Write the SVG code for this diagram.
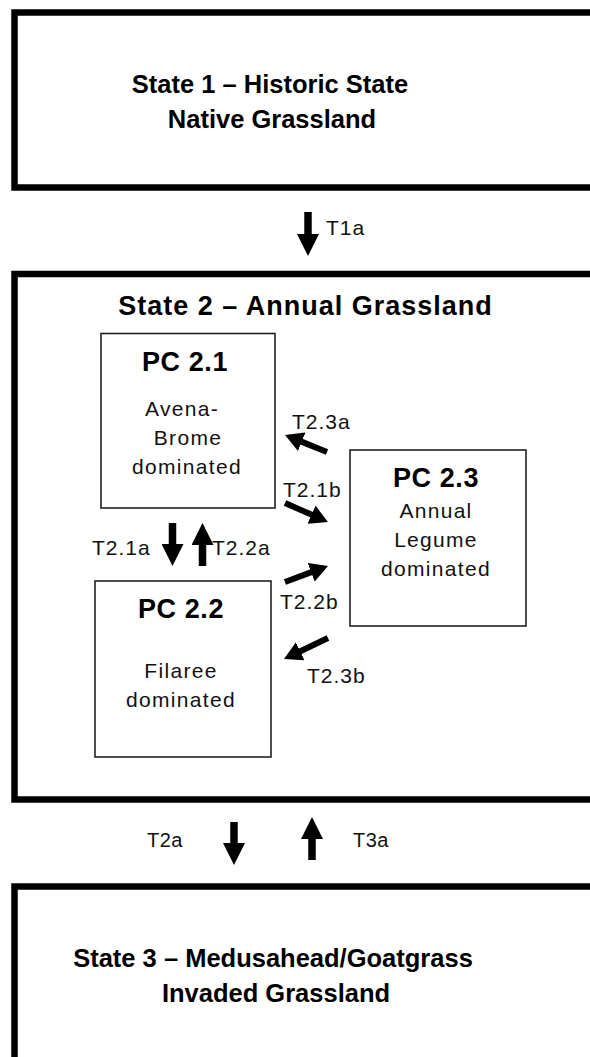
<svg xmlns="http://www.w3.org/2000/svg" width="590" height="1057" viewBox="0 0 590 1057">
  <style>
    .state { fill: #fff; stroke: #000; stroke-width: 6.5; }
    .pc { fill: #fff; stroke: #222; stroke-width: 1.6; }
    .st { font-family: "Liberation Sans", Arial, sans-serif; font-weight: bold; font-size: 25.5px; fill: #000; text-anchor: middle; }
    .pct { font-family: "Liberation Sans", Arial, sans-serif; font-weight: bold; font-size: 27px; letter-spacing: 0.6px; fill: #000; text-anchor: middle; }
    .body { font-family: "Liberation Sans", Arial, sans-serif; font-size: 21px; letter-spacing: 1.3px; fill: #111; text-anchor: middle; }
    .lbl { font-family: "Liberation Sans", Arial, sans-serif; font-size: 21px; letter-spacing: 1px; fill: #111; }
    .lbl2 { font-family: "Liberation Sans", Arial, sans-serif; font-size: 20px; letter-spacing: 0.5px; fill: #111; }
    .bigarrow { stroke: #000; stroke-width: 7.5; fill: none; marker-end: url(#headA); }
    .diagarrow { stroke: #000; stroke-width: 6; fill: none; marker-end: url(#headB); }
  </style>
  <defs>
    <marker id="headA" markerUnits="userSpaceOnUse" viewBox="0 0 22 22" markerWidth="22" markerHeight="22" refX="1" refY="11" orient="auto">
      <path d="M0,0 L22,11 L0,22 Z" fill="#000"/>
    </marker>
    <marker id="headB" markerUnits="userSpaceOnUse" viewBox="0 0 18 20" markerWidth="18" markerHeight="20" refX="1" refY="10" orient="auto">
      <path d="M0,0 L18,10 L0,20 Z" fill="#000"/>
    </marker>
  </defs>
  <rect width="590" height="1057" fill="#fff"/>

  <g id="state1">
    <rect class="state" x="14.5" y="12.5" width="600" height="175"/>
    <text class="st" x="270" y="93">State 1 – Historic State</text>
    <text class="st" x="272" y="128">Native Grassland</text>
  </g>

  <g id="state2">
    <rect class="state" x="14.5" y="274" width="600" height="525.5"/>
    <text class="st" x="305.5" y="315" style="font-size:27px;letter-spacing:1px">State 2 – Annual Grassland</text>
  </g>

  <g id="pc21">
    <rect class="pc" x="101" y="333.5" width="174" height="174.5"/>
    <text class="pct" x="185" y="371">PC 2.1</text>
    <text class="body" x="182" y="416">Avena-</text>
    <text class="body" x="188" y="445">Brome</text>
    <text class="body" x="187" y="474">dominated</text>
  </g>

  <g id="pc23">
    <rect class="pc" x="350" y="450" width="176" height="176"/>
    <text class="pct" x="436" y="487">PC 2.3</text>
    <text class="body" x="436" y="518">Annual</text>
    <text class="body" x="436" y="547">Legume</text>
    <text class="body" x="436" y="576">dominated</text>
  </g>

  <g id="pc22">
    <rect class="pc" x="95" y="581" width="176" height="176"/>
    <text class="pct" x="181" y="618">PC 2.2</text>
    <text class="body" x="181" y="678">Filaree</text>
    <text class="body" x="181" y="707">dominated</text>
  </g>

  <g id="state3">
    <rect class="state" x="14.5" y="886.5" width="600" height="200"/>
    <text class="st" x="273" y="967">State 3 – Medusahead/Goatgrass</text>
    <text class="st" x="276" y="1002">Invaded Grassland</text>
  </g>

  <g id="connectors">
    <line class="bigarrow" x1="308" y1="212" x2="308" y2="235"/>
    <line class="bigarrow" x1="172.5" y1="523" x2="172.5" y2="545"/>
    <line class="bigarrow" x1="202.5" y1="566" x2="202.5" y2="544"/>
    <line class="bigarrow" x1="234" y1="822" x2="234" y2="844"/>
    <line class="bigarrow" x1="312" y1="860" x2="312" y2="838"/>
    <line class="diagarrow" x1="327" y1="452" x2="300.8" y2="441.4"/>
    <line class="diagarrow" x1="285" y1="503" x2="312.4" y2="515.1"/>
    <line class="diagarrow" x1="285" y1="582" x2="312.1" y2="571.9"/>
    <line class="diagarrow" x1="328" y1="638" x2="299.3" y2="651.7"/>
  </g>

  <g id="labels">
    <text class="lbl" x="326" y="235">T1a</text>
    <text class="lbl" x="292" y="429">T2.3a</text>
    <text class="lbl" x="283" y="497">T2.1b</text>
    <text class="lbl" x="92" y="555">T2.1a</text>
    <text class="lbl" x="212" y="555">T2.2a</text>
    <text class="lbl" x="280" y="609">T2.2b</text>
    <text class="lbl" x="307" y="683">T2.3b</text>
    <text class="lbl2" x="147" y="847">T2a</text>
    <text class="lbl2" x="353" y="847">T3a</text>
  </g>
</svg>
